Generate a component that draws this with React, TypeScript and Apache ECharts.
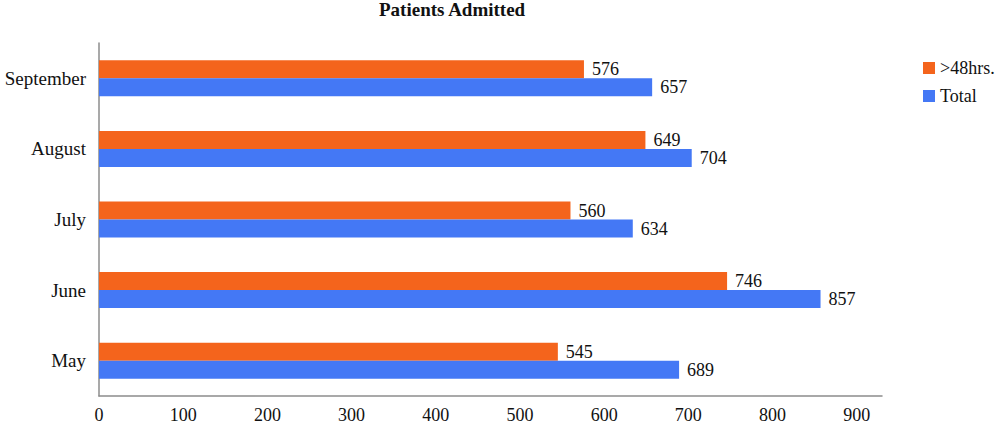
import React, { useEffect, useRef } from "react";
import * as echarts from "echarts";

const categories = ["May", "June", "July", "August", "September"];
const over48 = [545, 746, 560, 649, 576];
const total = [689, 857, 634, 704, 657];
const xTicks = [0, 100, 200, 300, 400, 500, 600, 700, 800, 900];

const FONT = "'Liberation Serif', serif";

export default function App() {
  const ref = useRef<HTMLDivElement>(null);
  useEffect(() => {
    if (!ref.current) return;
    const chart = echarts.init(ref.current, null, { renderer: "svg" });
    chart.setOption({
      animation: false,
      textStyle: { fontFamily: FONT },
      title: {
        text: "Patients Admitted",
        left: 379,
        top: 0,
        padding: 0,
        textStyle: { fontFamily: FONT, fontSize: 19, fontWeight: "bold", color: "#111" },
      },
      legend: {
        orient: "vertical",
        left: 918,
        top: 54,
        itemWidth: 12,
        itemHeight: 12,
        itemGap: 10,
        icon: "rect",
        textStyle: { fontFamily: FONT, fontSize: 18, color: "#111" },
        data: [">48hrs.", "Total"],
      },
      grid: { left: 99, top: 43, bottom: 39, right: 118, containLabel: false },
      xAxis: {
        type: "value",
        min: 0,
        max: 930,
        interval: 100,
        splitLine: { show: false },
        axisTick: { show: false },
        axisLine: { show: true, lineStyle: { color: "#8c8c8c", width: 1.5 } },
        axisLabel: {
          fontFamily: FONT,
          fontSize: 18,
          color: "#111",
          margin: 10,
          showMaxLabel: false,
          formatter: (v: number) => (xTicks.indexOf(v) >= 0 ? String(v) : ""),
        },
      },
      yAxis: {
        type: "category",
        data: categories,
        axisTick: { show: false },
        axisLine: { show: true, lineStyle: { color: "#8c8c8c", width: 1.5 } },
        axisLabel: { fontFamily: FONT, fontSize: 19, color: "#111", margin: 13 },
      },
      series: [
        {
          name: ">48hrs.",
          type: "bar",
          data: over48,
          barWidth: 18,
          barGap: "0%",
          itemStyle: { color: "#f4641c" },
          label: { show: true, position: "right", distance: 8, fontFamily: FONT, fontSize: 18, color: "#111" },
        },
        {
          name: "Total",
          type: "bar",
          data: total,
          barWidth: 18,
          barGap: "0%",
          itemStyle: { color: "#4478f5" },
          label: { show: true, position: "right", distance: 8, fontFamily: FONT, fontSize: 18, color: "#111" },
        },
      ],
    });
    return () => chart.dispose();
  }, []);
  return <div ref={ref} style={{ width: 1000, height: 435, position: "absolute", left: 0, top: 0 }} />;
}
